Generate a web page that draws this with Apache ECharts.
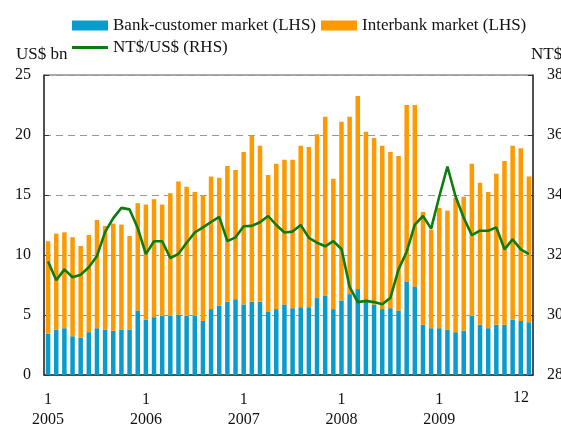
<!DOCTYPE html>
<html>
<head>
<meta charset="utf-8">
<script src="https://cdn.jsdelivr.net/npm/echarts@6/dist/echarts.min.js"></script>
<style>
  html, body { margin: 0; padding: 0; background: #fff; }
  #chart { width: 561px; height: 426px; }
</style>
</head>
<body>
<div id="chart"></div>
<script>
// Monthly turnover in Taiwan's FX market, Jan 2005 – Dec 2009
const years = ['2005', '2006', '2007', '2008', '2009'];
const months = ['1', '2', '3', '4', '5', '6', '7', '8', '9', '10', '11', '12'];

// Bank-customer market, US$ bn (left axis)
const bankCustomer = [
  3.45, 3.79, 3.90, 3.23, 3.12, 3.57, 3.90, 3.79, 3.68, 3.79, 3.79, 5.38,
  4.62, 4.82, 4.93, 4.93, 5.04, 4.93, 4.93, 4.51, 5.49, 5.77, 6.10, 6.32,
  5.88, 6.10, 6.10, 5.26, 5.49, 5.88, 5.57, 5.65, 5.65, 6.41, 6.63, 5.49,
  6.21, 6.74, 7.16, 6.10, 5.88, 5.49, 5.57, 5.38, 7.80, 7.38, 4.18, 3.90,
  3.90, 3.79, 3.57, 3.68, 4.93, 4.18, 3.90, 4.18, 4.18, 4.62, 4.51, 4.40
];

// Interbank market, US$ bn (left axis)
const interbank = [
  7.69, 7.99, 7.99, 8.25, 7.63, 8.10, 9.02, 8.63, 8.94, 8.74, 7.80, 8.94,
  9.58, 9.83, 9.27, 10.22, 11.09, 10.75, 10.33, 10.45, 11.06, 10.66, 11.31, 10.76,
  12.70, 13.84, 13.01, 11.40, 12.11, 12.06, 12.37, 13.46, 13.35, 13.65, 14.90, 10.86,
  14.90, 14.79, 16.10, 14.18, 13.87, 13.62, 13.01, 12.87, 14.70, 15.12, 9.41, 8.22,
  10.03, 9.91, 11.19, 11.17, 12.67, 11.84, 11.36, 12.59, 13.65, 14.49, 14.38, 12.15
];

// NT$ per US$ (right axis)
const ntdPerUsd = [
  31.78, 31.16, 31.52, 31.26, 31.34, 31.59, 31.97, 32.77, 33.23, 33.57, 33.52, 32.90,
  32.03, 32.46, 32.46, 31.90, 32.04, 32.41, 32.75, 32.92, 33.10, 33.27, 32.46, 32.59,
  32.96, 32.97, 33.09, 33.30, 33.00, 32.75, 32.78, 33.00, 32.57, 32.41, 32.29, 32.46,
  32.20, 30.94, 30.43, 30.47, 30.43, 30.36, 30.57, 31.52, 32.11, 33.01, 33.30, 32.88,
  33.95, 34.95, 33.95, 33.24, 32.66, 32.81, 32.81, 32.92, 32.19, 32.52, 32.19, 32.03
];

const leftTicks = { min: 0, max: 25, interval: 5 };
const rightTicks = { min: 28, max: 38, interval: 2 };

const categories = [];
years.forEach(y => months.forEach(m => categories.push(y + '-' + m)));
const lastIndex = categories.length - 1;

const FONT = '"Liberation Serif", "DejaVu Serif", serif';
const TEXT = '#111';
const BLUE = '#0a9bcd';
const ORANGE = '#ff9900';
const GREEN = '#0a7d0a';

// thin horizontal stroke centred in a 36x10 box, used as the line's legend key
const LINE_KEY = 'path://M0,0 M36,10 M0,3.6 L36,3.6 L36,6.4 L0,6.4 Z';

const chart = echarts.init(document.getElementById('chart'), null, { renderer: 'canvas' });

chart.setOption({
  animation: false,
  backgroundColor: '#fff',
  textStyle: { fontFamily: FONT, color: TEXT },
  grid: {
    left: 44, right: 28, top: 75, bottom: 51,
    outerBoundsMode: 'none', containLabel: false,
    show: true, borderColor: '#555', borderWidth: 1
  },
  legend: {
    left: 72, top: 17, width: 470, padding: 0,
    itemWidth: 36, itemHeight: 10, itemGap: 5,
    textStyle: { fontFamily: FONT, fontSize: 17, color: TEXT },
    data: [
      { name: 'Bank-customer market (LHS)', icon: 'rect' },
      { name: 'Interbank market (LHS)', icon: 'rect' },
      { name: 'NT$/US$ (RHS)', icon: LINE_KEY }
    ]
  },
  graphic: [
    { type: 'text', left: 16, top: 46,
      style: { text: 'US$ bn', font: '17px ' + FONT, fill: TEXT } },
    { type: 'text', left: 531, top: 46,
      style: { text: 'NT$', font: '17px ' + FONT, fill: TEXT } }
  ],
  xAxis: {
    type: 'category',
    data: categories,
    boundaryGap: true,
    axisLine: { lineStyle: { color: '#333', width: 1.5 } },
    axisTick: {
      inside: true, length: 5,
      interval: i => i > 0 && i % 12 === 0,
      lineStyle: { color: '#555' }
    },
    axisLabel: {
      margin: 15,
      interval: i => i % 12 === 0 || i === lastIndex,
      fontFamily: FONT, fontSize: 16, color: TEXT, lineHeight: 20,
      formatter: (v, i) => {
        const [y, m] = v.split('-');
        if (i === lastIndex) return '{r|' + m + '}';
        return m + '\n' + y;
      },
      rich: { r: { fontFamily: FONT, fontSize: 16, color: TEXT, padding: [0, 16, 4, 0] } }
    }
  },
  yAxis: [
    {
      type: 'value',
      min: leftTicks.min, max: leftTicks.max, interval: leftTicks.interval,
      axisLine: { show: true, lineStyle: { color: '#333', width: 1.5 } },
      axisTick: { show: true, inside: true, length: 5, lineStyle: { color: '#333' } },
      axisLabel: { margin: 13, fontFamily: FONT, fontSize: 16, color: TEXT },
      splitLine: { show: true, lineStyle: { color: '#999', type: [7, 5], width: 1 } }
    },
    {
      type: 'value', position: 'right',
      min: rightTicks.min, max: rightTicks.max, interval: rightTicks.interval,
      axisLine: { show: true, lineStyle: { color: '#333', width: 1.5 } },
      axisTick: { show: true, inside: true, length: 5, lineStyle: { color: '#333' } },
      axisLabel: { margin: 14, fontFamily: FONT, fontSize: 16, color: TEXT },
      splitLine: { show: false }
    }
  ],
  series: [
    {
      name: 'Bank-customer market (LHS)', type: 'bar', stack: 'fx',
      data: bankCustomer, barWidth: 4.5,
      itemStyle: { color: BLUE }
    },
    {
      name: 'Interbank market (LHS)', type: 'bar', stack: 'fx',
      data: interbank, barWidth: 4.5,
      itemStyle: { color: ORANGE }
    },
    {
      name: 'NT$/US$ (RHS)', type: 'line', yAxisIndex: 1,
      data: ntdPerUsd, symbol: 'none', z: 5,
      itemStyle: { color: GREEN },
      lineStyle: { color: GREEN, width: 2.6 }
    }
  ]
});
</script>
</body>
</html>
